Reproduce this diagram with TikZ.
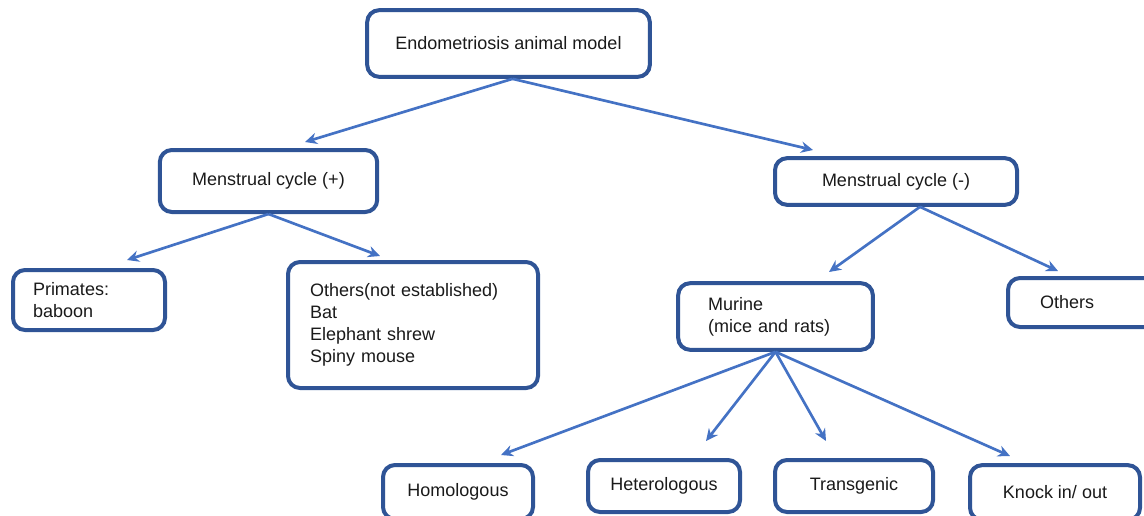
\documentclass[tikz,border=0pt]{standalone}
\usepackage{fontspec}
\setmainfont{Liberation Sans}
\usetikzlibrary{arrows.meta}

\definecolor{boxblue}{RGB}{47,84,150}
\definecolor{linkblue}{RGB}{68,114,196}
\definecolor{inkgray}{RGB}{26,26,26}

\begin{document}
\begin{tikzpicture}[x=0.75pt,y=0.75pt,yscale=-1,xscale=1,
  modelbox/.style={draw=boxblue,line width=3pt,rounded corners=9pt,fill=white,
    text=inkgray,font=\fontsize{13.5}{16.5}\selectfont,inner sep=0pt},
  leftbox/.style={modelbox,align=left},
  link/.style={draw=linkblue,line width=2pt,-{Stealth[length=9pt,width=8.5pt]}}]
%set diagram to 1144 x 515
\useasboundingbox (0,0) rectangle (1144,515);

\node[modelbox,minimum width=212pt,minimum height=50pt] (root) at (508.5,43.5) {Endometriosis animal model};
\node[modelbox,minimum width=163pt,minimum height=46.5pt] (mplus) at (268.5,181) {Menstrual cycle (+)\\[6pt]};
\node[modelbox,minimum width=181.5pt,minimum height=35pt] (mminus) at (896,181.5) {Menstrual cycle (-)};

\node[leftbox,minimum width=114pt,minimum height=45pt,text width=84pt] (primates) at (89,300) {Primates:\\baboon};
\node[leftbox,minimum width=187.5pt,minimum height=94.5pt,text width=154.5pt] (notest) at (413,325) {Others(not established)\\Bat\\Elephant shrew\\Spiny mouse};
\node[leftbox,minimum width=146pt,minimum height=50pt,text width=101pt] (murine) at (775.5,316.5) {Murine\\(mice and rats)};
\node[leftbox,minimum width=121.5pt,minimum height=36.75pt,text width=73.5pt] (others) at (1089,302.5) {Others\\[6pt]};

\node[modelbox,minimum width=112.5pt,minimum height=40.5pt] (homol) at (458,492) {Homologous};
\node[modelbox,minimum width=114pt,minimum height=39pt] (hetero) at (664,486) {Heterologous};
\node[modelbox,minimum width=118.5pt,minimum height=39pt] (transg) at (854,486) {Transgenic};
\node[modelbox,minimum width=127.5pt,minimum height=41pt] (knock) at (1055,492.5) {Knock in/ out};

\coordinate (tipmplus) at (305,142);
\coordinate (tipmminus) at (813,150);
\coordinate (tipprimates) at (127,260);
\coordinate (tipnotest) at (380,256);
\coordinate (tipmurine) at (829,272);
\coordinate (tipothers) at (1058,271);
\coordinate (tiphomol) at (501,455);
\coordinate (tiphetero) at (706,441);
\coordinate (tiptransg) at (826,441);
\coordinate (tipknock) at (1010,456);

\draw[link] ([xshift=3pt]root.south) -- (tipmplus);
\draw[link] ([xshift=3pt]root.south) -- (tipmminus);
\draw[link] (mplus.south) -- (tipprimates);
\draw[link] (mplus.south) -- (tipnotest);
\draw[link] ([xshift=18pt]mminus.south) -- (tipmurine);
\draw[link] ([xshift=18pt]mminus.south) -- (tipothers);
\draw[link] (murine.south) -- (tiphomol);
\draw[link] (murine.south) -- (tiphetero);
\draw[link] (murine.south) -- (tiptransg);
\draw[link] (murine.south) -- (tipknock);

\end{tikzpicture}
\end{document}
